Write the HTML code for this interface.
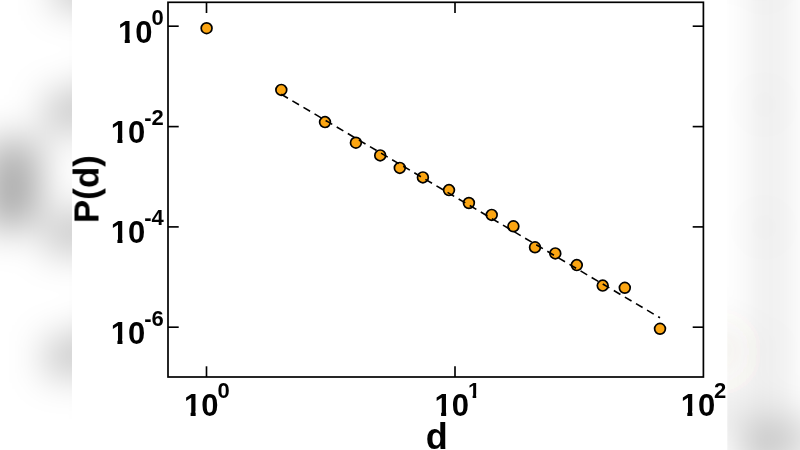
<!DOCTYPE html>
<html lang="en"><head><meta charset="utf-8"><title>P(d) vs d</title>
<style>
html,body{margin:0;padding:0;background:#fff;}
body{width:800px;height:450px;overflow:hidden;position:relative;font-family:"Liberation Sans",sans-serif;}
svg{position:absolute;left:0;top:0;display:block;}
text{font-family:"Liberation Sans",sans-serif;font-weight:bold;fill:#000;}
.tk{font-size:31px;}
.sp{font-size:22px;}
.ax{font-size:36px;}
</style></head><body>
<svg width="800" height="450" viewBox="0 0 800 450">
<defs>
<filter id="bl" filterUnits="userSpaceOnUse" x="-100" y="-150" width="1000" height="750"><feGaussianBlur stdDeviation="20"/></filter>
</defs>
<rect x="0" y="0" width="800" height="450" fill="#ffffff"/>
<g filter="url(#bl)"><g transform="translate(-87.90,-49.68) scale(1.2208)" fill="#000"><rect x="72.7" y="202.0" width="26" height="20" opacity=".53"/><rect x="72.7" y="191.0" width="33.5" height="9" opacity=".42"/><rect x="79.5" y="170.0" width="19.5" height="19" opacity=".5"/><rect x="72.7" y="170.0" width="7" height="5.6" opacity=".8"/><rect x="72.7" y="159.0" width="33.5" height="9" opacity=".46"/><rect x="58" y="157.0" width="14.7" height="74" opacity=".27"/><rect x="727.3" y="392" width="14" height="26" opacity=".22"/><rect x="120.1" y="21.4" width="31.2" height="21.5" opacity=".41"/><rect x="152.4" y="10.1" width="10.3" height="14.7" opacity=".36"/><rect x="112.8" y="121.8" width="31.2" height="21.5" opacity=".41"/><rect x="145.3" y="110.5" width="17.4" height="14.7" opacity=".36"/><rect x="112.8" y="222.1" width="31.2" height="21.5" opacity=".41"/><rect x="145.3" y="210.8" width="17.4" height="14.7" opacity=".36"/><rect x="112.8" y="322.4" width="31.2" height="21.5" opacity=".41"/><rect x="145.3" y="311.1" width="17.4" height="14.7" opacity=".36"/><rect x="185.9" y="394.6" width="31.3" height="21.4" opacity=".46"/><rect x="218.4" y="383.3" width="10.3" height="14.7" opacity=".42"/><rect x="436.4" y="394.6" width="31.3" height="21.4" opacity=".46"/><rect x="468.9" y="383.3" width="10.3" height="14.7" opacity=".42"/><rect x="682.6" y="394.6" width="31.3" height="21.4" opacity=".46"/><rect x="715.1" y="383.3" width="10.3" height="14.7" opacity=".42"/><rect x="427" y="422" width="19" height="27" opacity=".5"/><rect x="168.0" y="2.3" width="535.4" height="374.7" fill="none" stroke="#000" stroke-width="2.2"/><rect x="693.1" y="25.6" width="10.3" height="1.3"/><rect x="168.0" y="25.6" width="10.3" height="1.3"/><rect x="693.1" y="125.9" width="10.3" height="1.3"/><rect x="168.0" y="125.9" width="10.3" height="1.3"/><rect x="693.1" y="226.2" width="10.3" height="1.3"/><rect x="168.0" y="226.2" width="10.3" height="1.3"/><rect x="693.1" y="326.6" width="10.3" height="1.3"/><rect x="168.0" y="326.6" width="10.3" height="1.3"/><circle cx="206.6" cy="28.2" r="5.4" fill="#ccab78" stroke="#000" stroke-width="1.7"/><circle cx="281.3" cy="89.9" r="5.4" fill="#ccab78" stroke="#000" stroke-width="1.7"/><circle cx="325.0" cy="122.1" r="5.4" fill="#ccab78" stroke="#000" stroke-width="1.7"/><circle cx="355.9" cy="142.7" r="5.4" fill="#ccab78" stroke="#000" stroke-width="1.7"/><circle cx="380.2" cy="155.4" r="5.4" fill="#ccab78" stroke="#000" stroke-width="1.7"/><circle cx="399.8" cy="167.9" r="5.4" fill="#ccab78" stroke="#000" stroke-width="1.7"/><circle cx="422.9" cy="177.4" r="5.4" fill="#ccab78" stroke="#000" stroke-width="1.7"/><circle cx="449.0" cy="190.1" r="5.4" fill="#ccab78" stroke="#000" stroke-width="1.7"/><circle cx="468.9" cy="203.0" r="5.4" fill="#ccab78" stroke="#000" stroke-width="1.7"/><circle cx="491.7" cy="214.9" r="5.4" fill="#ccab78" stroke="#000" stroke-width="1.7"/><circle cx="513.4" cy="226.3" r="5.4" fill="#ccab78" stroke="#000" stroke-width="1.7"/><circle cx="535.0" cy="247.3" r="5.4" fill="#ccab78" stroke="#000" stroke-width="1.7"/><circle cx="555.3" cy="253.4" r="5.4" fill="#ccab78" stroke="#000" stroke-width="1.7"/><circle cx="576.8" cy="265.1" r="5.4" fill="#ccab78" stroke="#000" stroke-width="1.7"/><circle cx="602.7" cy="285.6" r="5.4" fill="#ccab78" stroke="#000" stroke-width="1.7"/><circle cx="624.8" cy="287.8" r="5.4" fill="#ccab78" stroke="#000" stroke-width="1.7"/><circle cx="660.0" cy="328.8" r="5.4" fill="#ccab78" stroke="#000" stroke-width="1.7"/><line x1="281.3" y1="94.3" x2="660" y2="317.8" stroke="#000" stroke-width="1.6" stroke-dasharray="7.7 5.2"/></g></g>
<rect x="72" y="0" width="655.3" height="450" fill="#ffffff"/>
<rect x="168.0" y="2.3" width="535.4" height="374.7" fill="none" stroke="#000" stroke-width="1.7"/>
<g stroke="#000" stroke-width="1.65" fill="none"><line x1="206.5" y1="377.0" x2="206.5" y2="366.3"/><line x1="206.5" y1="2.3" x2="206.5" y2="13.0"/><line x1="455.0" y1="377.0" x2="455.0" y2="366.3"/><line x1="455.0" y1="2.3" x2="455.0" y2="13.0"/><line x1="168.0" y1="26.2" x2="178.7" y2="26.2"/><line x1="703.4" y1="26.2" x2="692.6999999999999" y2="26.2"/><line x1="168.0" y1="126.6" x2="178.7" y2="126.6"/><line x1="703.4" y1="126.6" x2="692.6999999999999" y2="126.6"/><line x1="168.0" y1="226.9" x2="178.7" y2="226.9"/><line x1="703.4" y1="226.9" x2="692.6999999999999" y2="226.9"/><line x1="168.0" y1="327.2" x2="178.7" y2="327.2"/><line x1="703.4" y1="327.2" x2="692.6999999999999" y2="327.2"/></g>
<g fill="#fba512" stroke="#000" stroke-width="1.7"><circle cx="206.6" cy="28.2" r="5.4"/><circle cx="281.3" cy="89.9" r="5.4"/><circle cx="325.0" cy="122.1" r="5.4"/><circle cx="355.9" cy="142.7" r="5.4"/><circle cx="380.2" cy="155.4" r="5.4"/><circle cx="399.8" cy="167.9" r="5.4"/><circle cx="422.9" cy="177.4" r="5.4"/><circle cx="449.0" cy="190.1" r="5.4"/><circle cx="468.9" cy="203.0" r="5.4"/><circle cx="491.7" cy="214.9" r="5.4"/><circle cx="513.4" cy="226.3" r="5.4"/><circle cx="535.0" cy="247.3" r="5.4"/><circle cx="555.3" cy="253.4" r="5.4"/><circle cx="576.8" cy="265.1" r="5.4"/><circle cx="602.7" cy="285.6" r="5.4"/><circle cx="624.8" cy="287.8" r="5.4"/><circle cx="660.0" cy="328.8" r="5.4"/></g>
<line x1="281.3" y1="94.3" x2="660" y2="317.8" stroke="#000" stroke-width="1.6" stroke-dasharray="7.7 5.17"/>
<g opacity=".999">
<text x="118.10" y="42.7" class="tk">10</text><text x="151.57" y="24.7" class="sp">0</text>
<text x="110.77" y="143.1" class="tk">10</text><text x="144.24" y="125.1" class="sp">-2</text>
<text x="110.77" y="243.4" class="tk">10</text><text x="144.24" y="225.4" class="sp">-4</text>
<text x="110.77" y="343.7" class="tk">10</text><text x="144.24" y="325.7" class="sp">-6</text>
<text x="183.95" y="415.8" class="tk">10</text><text x="217.42" y="398.1" class="sp">0</text>
<text x="434.45" y="415.8" class="tk">10</text><text x="467.92" y="398.1" class="sp">1</text>
<text x="680.65" y="415.8" class="tk">10</text><text x="714.12" y="398.1" class="sp">2</text>
<g fill="#fff"><rect x="119.00" y="37.80" width="5.75" height="5.70"/><rect x="129.80" y="37.80" width="5.60" height="5.70"/><rect x="111.67" y="138.20" width="5.75" height="5.70"/><rect x="122.47" y="138.20" width="5.60" height="5.70"/><rect x="111.67" y="238.50" width="5.75" height="5.70"/><rect x="122.47" y="238.50" width="5.60" height="5.70"/><rect x="111.67" y="338.80" width="5.75" height="5.70"/><rect x="122.47" y="338.80" width="5.60" height="5.70"/><rect x="184.85" y="410.90" width="5.75" height="5.70"/><rect x="195.65" y="410.90" width="5.60" height="5.70"/><rect x="435.35" y="410.90" width="5.75" height="5.70"/><rect x="446.15" y="410.90" width="5.60" height="5.70"/><rect x="468.52" y="394.50" width="4.10" height="4.30"/><rect x="476.22" y="394.50" width="4.00" height="4.30"/><rect x="681.55" y="410.90" width="5.75" height="5.70"/><rect x="692.35" y="410.90" width="5.60" height="5.70"/></g>
<text class="ax" x="436.8" y="448.5" text-anchor="middle">d</text>
<text class="ax" style="font-size:35px" transform="translate(98.5,189.1) rotate(-90)" text-anchor="middle">P(d)</text>
</g>
</svg>
</body></html>
